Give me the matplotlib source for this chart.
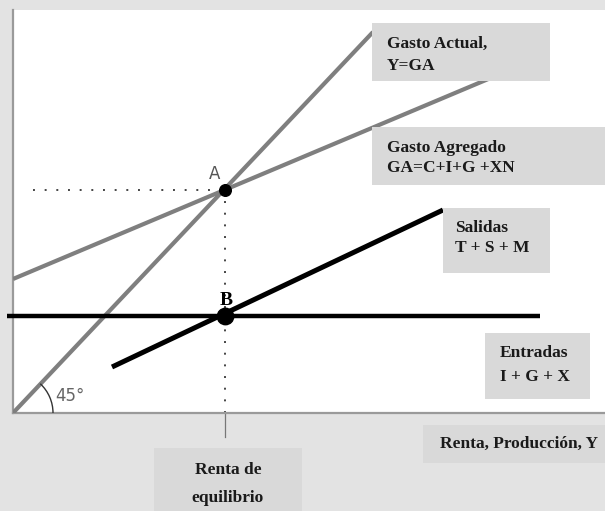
import matplotlib
matplotlib.use("Agg")
import matplotlib.pyplot as plt
from matplotlib.patches import Rectangle, Arc

# ---- data (diagram units: x = income, y = spending) ----
gasto_actual_x = [0, 360]
gasto_actual_y = [0, 381]
gasto_agregado_x = [0, 480]
gasto_agregado_y = [134, 336]
salidas_x = [99, 430]
salidas_y = [46, 203]
entradas_x = [-6, 527]
entradas_y = [97, 97]
eq_x = 212
point_a_y = 223
point_b_y = 97
dotted_h_start = 20

labels = {
    "actual": "Gasto Actual,\nY=GA",
    "agregado": "Gasto Agregado\nGA=C+I+G +XN",
    "salidas": "Salidas\nT + S + M",
    "entradas": "Entradas\nI + G + X",
    "xaxis": "Renta, Producción, Y",
    "eq": "Renta de\nequilibrio",
}

BG = "#e3e3e3"
BOX = "#d9d9d9"
GRAY = "#7f7f7f"
SERIF = ["Liberation Serif", "DejaVu Serif"]

fig = plt.figure(figsize=(6.05, 5.11), dpi=100, facecolor=BG)
W, H = 605, 511
ax = fig.add_axes([13 / W, 1 - 413 / H, (605 - 13) / W, (413 - 10) / H])
ax.set_facecolor("white")
ax.set_xlim(0, 592)
ax.set_ylim(0, 403)
ax.set_xticks([])
ax.set_yticks([])
for s in ["top", "right"]:
    ax.spines[s].set_visible(False)
for s in ["left", "bottom"]:
    ax.spines[s].set_color("#9a9a9a")
    ax.spines[s].set_linewidth(1.6)

# lines
ax.plot(gasto_actual_x, gasto_actual_y, color=GRAY, lw=3, solid_capstyle="butt", zorder=3)
ax.plot(gasto_agregado_x, gasto_agregado_y, color=GRAY, lw=3, solid_capstyle="butt", zorder=3)
ax.plot(salidas_x, salidas_y, color="black", lw=3.6, solid_capstyle="butt", zorder=4)
ax.plot(entradas_x, entradas_y, color="black", lw=3.2, solid_capstyle="butt", zorder=4, clip_on=False)

# dotted guides
ax.plot([dotted_h_start, eq_x], [point_a_y, point_a_y], color="#444444", lw=1.4,
        linestyle=(0, (1, 5)), zorder=2)
ax.plot([eq_x, eq_x], [0, point_a_y], color="#444444", lw=1.4,
        linestyle=(0, (1, 5)), zorder=2)
ax.plot([eq_x, eq_x], [0, -24], color="#777777", lw=0.9, clip_on=False, zorder=2)

# points
ax.scatter([eq_x], [point_a_y], s=70, color="black", zorder=6)
ax.scatter([eq_x], [point_b_y], s=140, color="black", zorder=6)
ax.text(eq_x - 10, point_a_y + 7, "A", fontsize=12, color="#555555", ha="center", va="bottom", zorder=7)
ax.text(eq_x + 1, point_b_y + 7, "B", fontsize=14, fontweight="bold", family=SERIF,
        color="black", ha="center", va="bottom", zorder=7)

# 45 degree arc
ax.add_patch(Arc((0, 0), 80, 80, theta1=0, theta2=47, color="#333333", lw=1.0, zorder=3))
ax.text(42, 8, "45°", fontsize=12, color="#666666", ha="left", va="bottom", zorder=3)

# label boxes: (x0, y0, x1, y1, text_x, text_y, text, ha, linespacing)
boxes = [
    (359, 332, 537, 390, 374, 358, labels["actual"], "left", 1.45),
    (359, 228, 592, 286, 374, 255, labels["agregado"], "left", 1.4),
    (430, 140, 537, 205, 442, 175, labels["salidas"], "left", 1.4),
    (472, 14, 577, 80, 487, 48, labels["entradas"], "left", 1.6),
    (410, -50, 592, -12, 427, -31, labels["xaxis"], "left", 1.2),
    (141, -98, 289, -35, 215, -71, labels["eq"], "center", 2.05),
]
for x0, y0, x1, y1, tx, ty, txt, ha, ls in boxes:
    ax.add_patch(Rectangle((x0, y0), x1 - x0, y1 - y0, facecolor=BOX, edgecolor="none",
                           zorder=5, clip_on=False))
    ax.text(tx, ty, txt, fontsize=12.5, fontweight="bold", family=SERIF, color="#1a1a1a",
            ha=ha, va="center", linespacing=ls, zorder=6, clip_on=False)

fig.savefig("out.png", dpi=100, facecolor=BG)
